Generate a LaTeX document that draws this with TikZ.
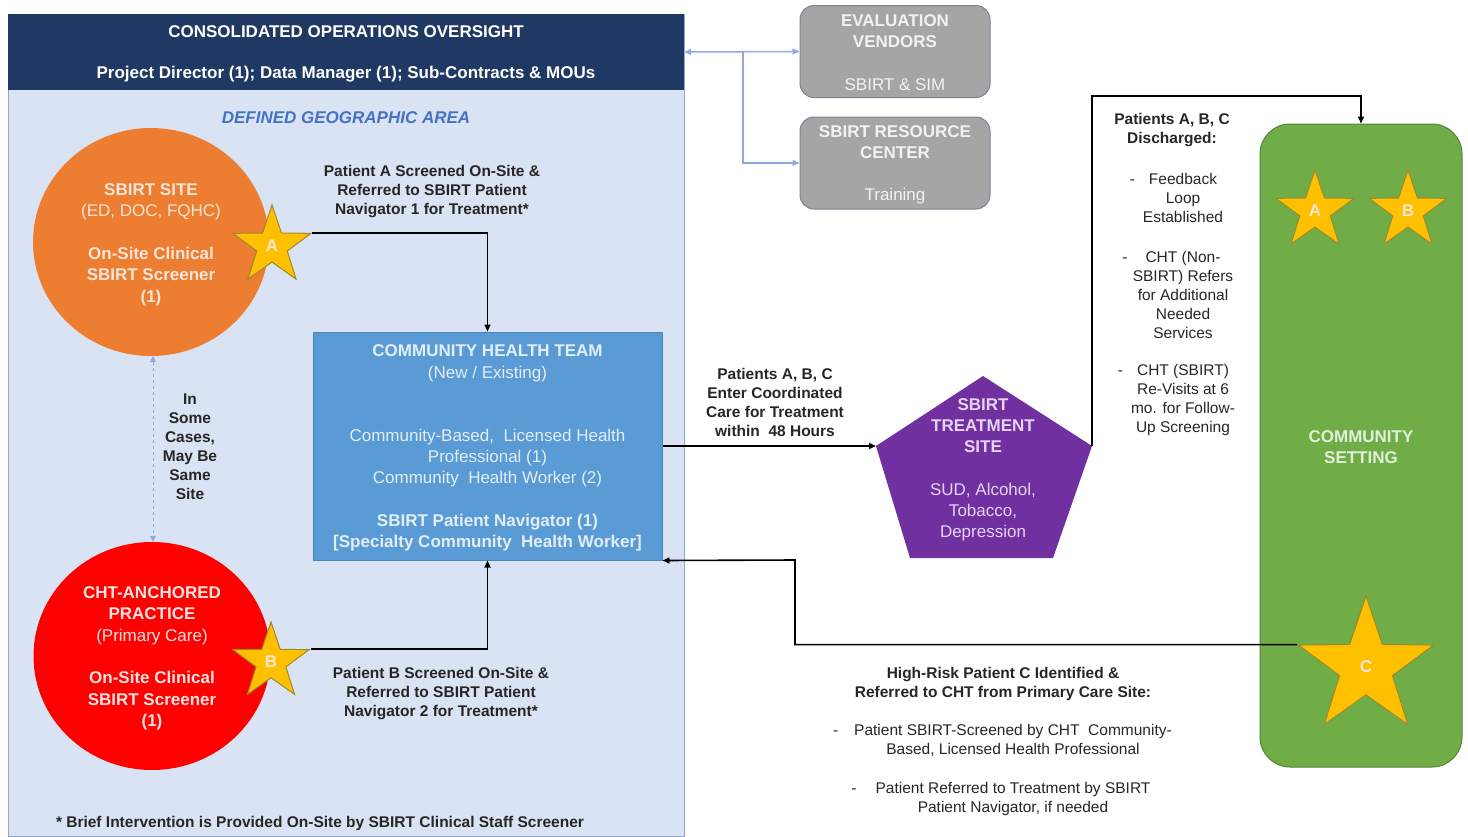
\documentclass[tikz,border=0pt]{standalone}
\usepackage{fontspec}
\setmainfont{Liberation Sans}
\usetikzlibrary{shapes.geometric,arrows.meta,calc}
\definecolor{navy}{HTML}{1F3864}
\definecolor{areafill}{HTML}{DAE3F3}
\definecolor{areadraw}{HTML}{8EA9CB}
\definecolor{areatext}{HTML}{4472C4}
\definecolor{orangeC}{HTML}{ED7D31}
\definecolor{orangeT}{HTML}{FBE5D6}
\definecolor{redC}{HTML}{FF0000}
\definecolor{redT}{HTML}{FDE2E2}
\definecolor{starY}{HTML}{FFC000}
\definecolor{starD}{HTML}{9C8A2E}
\definecolor{chtF}{HTML}{5B9BD5}
\definecolor{chtD}{HTML}{4A86C0}
\definecolor{chtT}{HTML}{E2EEF9}
\definecolor{grayF}{HTML}{A5A5A5}
\definecolor{grayD}{HTML}{7A8594}
\definecolor{grayT}{HTML}{F2F2F2}
\definecolor{purpleF}{HTML}{7030A0}
\definecolor{purpleT}{HTML}{E6D3F5}
\definecolor{greenF}{HTML}{70AD47}
\definecolor{greenD}{HTML}{548235}
\definecolor{greenT}{HTML}{E2F0D9}
\definecolor{lblue}{HTML}{8FAADC}
\definecolor{txt}{HTML}{262626}
\begin{document}
\begin{tikzpicture}[x=1pt,y=-1pt,
  boxfont/.style={font=\fontsize{17}{21}\selectfont},
  annfont/.style={font=\fontsize{15.5}{19}\selectfont, text=txt, align=center},
  flow/.style={line width=1.6pt, draw=black, -{Triangle[length=7pt,width=6pt]}},
  lflow/.style={line width=1.5pt, draw=lblue, {Triangle[length=7pt,width=6pt]}-{Triangle[length=7pt,width=6pt]}},
  starnode/.style={star, star points=5, star point ratio=2.55, fill=starY, draw=starD,
    line width=1pt, inner sep=0pt, text=orangeT, font=\fontsize{17}{21}\selectfont\bfseries},
  graybox/.style={rectangle, rounded corners=14pt, fill=grayF, draw=grayD, line width=1pt,
    minimum width=190pt, minimum height=92pt, text=grayT, align=center, boxfont}
]
\useasboundingbox (0,0) rectangle (1468,836);

% defined geographic area
\draw[fill=areafill, draw=areadraw, line width=1pt] (8,14) rectangle (684,836);
\node[rectangle, fill=navy, minimum width=676pt, minimum height=76pt, inner sep=0] (hdr) at (346,52) {};
\node[text=white, font=\fontsize{17}{21}\selectfont\bfseries] (hdr1) at (346,32) {CONSOLIDATED OPERATIONS OVERSIGHT};
\node[text=white, font=\fontsize{17}{21}\selectfont\bfseries] (hdr2) at (346,74.5) {Project Director (1); Data Manager (1); Sub-Contracts \& MOUs};
\node[text=areatext, font=\fontsize{17}{21}\selectfont\bfseries\itshape] (area) at (346,118) {DEFINED GEOGRAPHIC AREA};

% circles
\node[ellipse, fill=orangeC, minimum width=236pt, minimum height=228pt, inner sep=0] (site) at (151,242) {};
\node[text=orangeT, align=center, font=\fontsize{17}{21.5}\selectfont] (siteT) at (151,244.5)
  {\textbf{SBIRT SITE}\\(ED, DOC, FQHC)\\[21pt]\textbf{On-Site Clinical}\\\textbf{SBIRT Screener}\\\textbf{(1)}};
\node[ellipse, fill=redC, minimum width=237pt, minimum height=228pt, inner sep=0] (prac) at (152,656) {};
\node[text=redT, align=center, font=\fontsize{17}{21.5}\selectfont] (pracT) at (152,658.5)
  {\textbf{CHT-ANCHORED}\\\textbf{PRACTICE}\\(Primary Care)\\[21pt]\textbf{On-Site Clinical}\\\textbf{SBIRT Screener}\\\textbf{(1)}};

\draw[line width=1pt, draw=lblue, dashed, {Triangle[length=6pt,width=6pt]}-{Triangle[length=6pt,width=6pt]}]
  (site.south -| 153,0) -- (prac.north -| 153,0);
\node[annfont, font=\fontsize{15.5}{19}\selectfont\bfseries] (same) at (190,447)
  {In\\Some\\Cases,\\May Be\\Same\\Site};

% stars on circles
\node[starnode, minimum size=82pt] (sA) at (272,246) {A};
\node[starnode, minimum size=80pt] (sB) at (271,662) {B};

% CHT box
\node[rectangle, fill=chtF, draw=chtD, line width=1pt, minimum width=349pt, minimum height=228pt] (cht) at (487.5,446) {};
\node[text=chtT, align=center, font=\fontsize{17}{21}\selectfont] (chtT) at (487.5,448)
  {\textbf{COMMUNITY HEALTH TEAM}\\[1pt](New / Existing)\\[42pt]Community-Based,\ \ Licensed Health\\Professional (1)\\Community\ \ Health Worker (2)\\[22pt]\textbf{SBIRT Patient Navigator (1)}\\\textbf{[Specialty Community\ \ Health Worker]}};

\node[annfont, font=\fontsize{15.5}{19}\selectfont\bfseries] (tA) at (432,191.5)
  {Patient A Screened On-Site \&\\Referred to SBIRT Patient\\Navigator 1 for Treatment*};
\node[annfont, font=\fontsize{15.5}{19}\selectfont\bfseries] (tB) at (441,693.5)
  {Patient B Screened On-Site \&\\Referred to SBIRT Patient\\Navigator 2 for Treatment*};
\node[annfont, font=\fontsize{15.5}{19}\selectfont\bfseries] (foot) at (320,823)
  {* Brief Intervention is Provided On-Site by SBIRT Clinical Staff Screener};

\draw[flow] (sA.18) -| (cht.north);
\draw[flow] (sB.18) -| (cht.south);

% gray boxes
\node[graybox] (ev) at (895,51.5) {};
\node[text=grayT, align=center, boxfont] (evT) at (895,53)
  {\textbf{EVALUATION}\\\textbf{VENDORS}\\[22pt]SBIRT \& SIM};
\node[graybox] (rc) at (895,163) {};
\node[text=grayT, align=center, boxfont] (rcT) at (895,165)
  {\textbf{SBIRT RESOURCE}\\\textbf{CENTER}\\[21pt]Training};
\coordinate (jn) at (743,52);
\draw[lflow] (hdr.east) -- (ev.west);
\draw[line width=1.5pt, draw=lblue, -{Triangle[length=7pt,width=6pt]}] (jn) |- (rc.west);

% treatment site
\coordinate (pentL) at (876,446);
\coordinate (pentR) at (1092,446);
\fill[purpleF] (983,376) -- (pentR) -- (1053,558) -- (910,558) -- (pentL) -- cycle;
\node[text=purpleT, align=center, font=\fontsize{17}{21}\selectfont] (treat) at (983,470)
  {\textbf{SBIRT}\\\textbf{TREATMENT}\\\textbf{SITE}\\[22pt]SUD, Alcohol,\\Tobacco,\\Depression};
\node[annfont, font=\fontsize{15.5}{19}\selectfont\bfseries] (tE) at (775,402.5)
  {Patients A, B, C\\Enter Coordinated\\Care for Treatment\\within\ \ 48 Hours};
\draw[flow] (cht.east) -- (pentL);

% community setting
\node[rectangle, rounded corners=30pt, fill=greenF, draw=greenD, line width=1pt,
  minimum width=202pt, minimum height=643pt, inner sep=0] (comm) at (1361,445.5) {};
\node[text=greenT, align=center, font=\fontsize{17}{21}\selectfont\bfseries] (commT) at (1361,447)
  {COMMUNITY\\SETTING};
\node[starnode, minimum size=82pt] (gA) at (1315,211) {A};
\node[starnode, minimum size=82pt] (gB) at (1408,211) {B};
\node[starnode, minimum size=142pt] (sC) at (1366,667) {C};

\coordinate (dtop) at (1092,96);
\draw[flow] (pentR) -- (dtop) -| (comm.north);

\node[annfont, font=\fontsize{15.5}{19}\selectfont\bfseries] (tD) at (1172,130.5)
  {Patients A, B, C\\Discharged:};
\node[annfont] (d1) at (1183,198)
  {\llap{-\hspace{14pt}}Feedback\\Loop\\Established};
\node[annfont] (d2) at (1183,294.5)
  {\llap{-\hspace{18pt}}CHT (Non-\\SBIRT) Refers\\for Additional\\Needed\\Services};
\node[annfont] (d3) at (1183,400)
  {\llap{-\hspace{14pt}}CHT (SBIRT)\\Re-Visits at 6\\mo. for Follow-\\Up Screening};

% patient C
\coordinate (bendC) at (795,560);
\draw[flow] (sC.162) -| (bendC) -- (cht.south east);
\node[annfont, font=\fontsize{15.5}{19}\selectfont\bfseries] (tC) at (1003,683.5)
  {High-Risk Patient C Identified \&\\Referred to CHT from Primary Care Site:};
\node[annfont] (c1) at (1013,740.5)
  {\llap{-\hspace{16pt}}Patient SBIRT-Screened by CHT\ \ Community-\\Based, Licensed Health Professional};
\node[annfont] (c2) at (1013,798.5)
  {\llap{-\hspace{19pt}}Patient Referred to Treatment by SBIRT\\Patient Navigator, if needed};
\end{tikzpicture}
\end{document}
